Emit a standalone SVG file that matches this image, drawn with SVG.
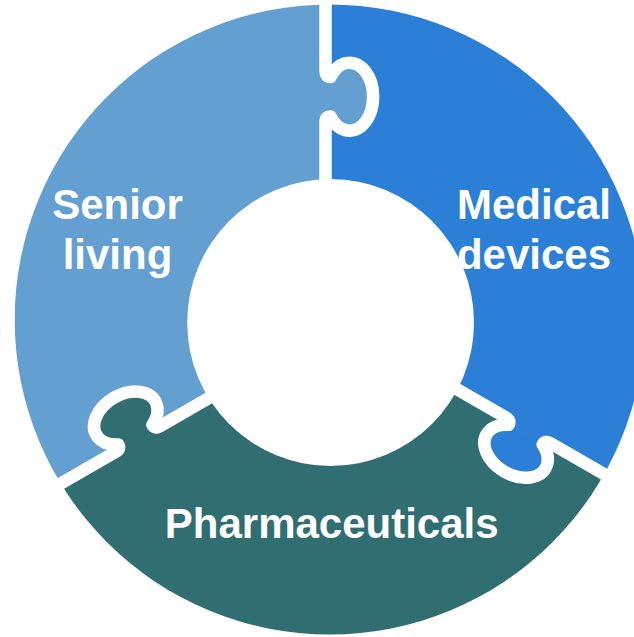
<svg xmlns="http://www.w3.org/2000/svg" width="634" height="637" viewBox="0 0 634 637">
<style>
.sep{fill:none;stroke:#fff;stroke-width:12.5;stroke-linejoin:round;stroke-linecap:butt}
.lbl{font-family:"Liberation Sans",Arial,sans-serif;font-weight:bold;font-size:42px;fill:#fff;text-anchor:middle}
</style>
<defs>
<clipPath id="outer"><circle cx="329.7" cy="319.5" r="315"/></clipPath>
<path id="piece" fill-rule="evenodd" d="M0,0 L-294.45,170 A340,340 0 0 1 0,-340 Z M0,-245 A23.5,34 0 1 1 0,-205.6 Z M-212.176,122.5 A23.5,34 -120 1 1 -178.055,102.8 Z"/>
<path id="sepPath" class="sep" d="M-5,-345 V-251 Q-5,-245 0,-245 A23.5,34 0 1 1 0,-205.6 Q-5,-205.6 -5,-200 V-130"/>
</defs>
<rect width="634" height="637" fill="#fff"/>
<g id="senior-living">
<g clip-path="url(#outer)"><use href="#piece" transform="translate(330.5,322)" fill="#639fd0"/></g>
<text class="lbl" x="117.5" y="219">Senior</text>
<text class="lbl" x="117.5" y="269">living</text>
</g>
<g id="medical-devices">
<g clip-path="url(#outer)"><use href="#piece" transform="translate(330.5,322) rotate(120)" fill="#2b7fd6"/></g>
<text class="lbl" x="534" y="219">Medical</text>
<text class="lbl" x="534" y="269">devices</text>
</g>
<g id="pharmaceuticals">
<g clip-path="url(#outer)"><use href="#piece" transform="translate(330.5,322) rotate(-120)" fill="#316e72"/></g>
<text class="lbl" x="331.7" y="537.5">Pharmaceuticals</text>
</g>
<g id="connectors" transform="translate(330.5,322)">
<use href="#sepPath"/>
<use href="#sepPath" transform="rotate(120)"/>
<use href="#sepPath" transform="rotate(-120)"/>
</g>
<circle id="hub" cx="330.6" cy="322.5" r="143.4" fill="#fff"/>
</svg>
